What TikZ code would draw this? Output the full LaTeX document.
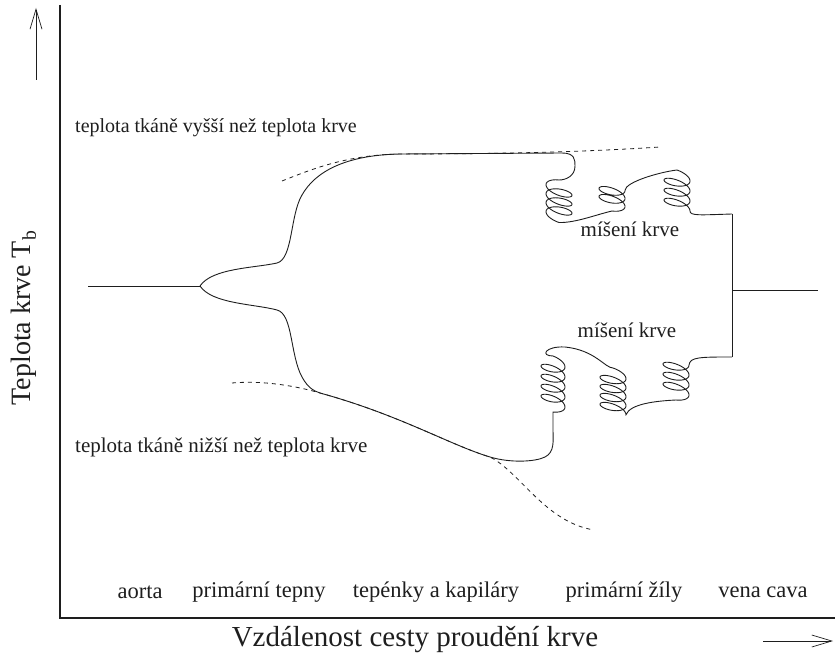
\documentclass[tikz,border=0pt]{standalone}
\usepackage{fontspec}
\setmainfont{Liberation Serif}
\usetikzlibrary{arrows.meta}
\definecolor{btInk}{HTML}{1E1E1E}
\tikzset{
  bt axis/.style={draw=btInk, line width=1.8pt},
  bt curve/.style={draw=btInk, line width=0.9pt},
  bt guide/.style={draw=btInk, dash pattern=on 4pt off 4pt, line width=0.8pt},
  bt hint/.style={draw=btInk, line width=0.7pt, -{Straight Barb[length=20pt,width=12pt]}},
  bt spring/.style={variable=\t, samples=150},
  bt label/.style={font=\fontsize{21}{24}\selectfont, text=btInk, inner sep=0pt},
  bt section/.style={font=\fontsize{22.5}{25}\selectfont, text=btInk, inner sep=0pt},
  bt title/.style={font=\fontsize{29}{32}\selectfont, text=btInk, inner sep=0pt},
}

\begin{document}
\begin{tikzpicture}[x=1pt,y=-1pt]
\useasboundingbox (0,0) rectangle (835,660);
% axes and the two direction hints
\coordinate (origin) at (60,618);
\draw[bt axis] (60,5) -- (origin) -- (835,618);
\draw[bt hint] (36,80) -- (36,8);
\draw[bt hint] (763,641) -- (833,641);
\node[bt title,font=\fontsize{28}{32}\selectfont,rotate=90] (ylab) at (24,318) {Teplota krve T\textsubscript{b}};
\node[bt title] (xlab) at (415,640) {Vzdálenost cesty proudění krve};
% sections along the path
\node[bt section] (aorta) at (140,592) {aorta};
\node[bt section] (tepny) at (259,592) {primární tepny};
\node[bt section] (kapilary) at (436,592) {tepénky a kapiláry};
\node[bt section] (zily) at (624,592) {primární žíly};
\node[bt section] (cava) at (763,592) {vena cava};
\node[bt label,font=\fontsize{20}{24}\selectfont,anchor=west] (warm) at (75,128) {teplota tkáně vyšší než teplota krve};
\node[bt label,anchor=west] (cold) at (75,447) {teplota tkáně nižší než teplota krve};
\node[bt label] (mixtop) at (630,229) {míšení krve};
\node[bt label] (mixbot) at (627,330) {míšení krve};
% tissue temperature
\draw[bt guide] (282,181) .. controls (310,170) and (345,155) .. (400,154) .. controls (520,154) and (600,151) .. (660,147);
\draw[bt guide] (232,383) .. controls (265,380) and (300,387) .. (320,393) .. controls (400,415) and (450,445) .. (490,457) .. controls (520,472) and (545,522) .. (594,530);
% blood temperature
\coordinate (split) at (200,286);
\draw[bt curve] (88,286) -- (split);
\draw[bt curve] (split) .. controls (212,268) and (255,268) .. (277,263)
  .. controls (293,259) and (290,215) .. (302,195)
  .. controls (315,172) and (345,155) .. (400,154) -- (562,153)
  .. controls (575,153) and (575,160) .. (575,166)
  .. controls (575,176) and (566,180) .. (559,180)
  -- plot[bt spring,domain=0:1260] ({559-13*sin(\t)},{180+5.5*(1-cos(\t))-3*sin(\t)+9*\t/360})
  .. controls (575,223) and (595,215) .. (612,211)
  -- plot[bt spring,domain=0:810] ({612+13*sin(\t)},{211-5.5*(1-cos(\t))+3*sin(\t)-8*\t/360})
  .. controls (625,182) and (660,172) .. (677,170)
  -- plot[bt spring,domain=0:1170] ({677+13*sin(\t)},{170+5.5*(1-cos(\t))+3*sin(\t)+10*\t/360})
  .. controls (690,216) and (700,215) .. (732,214) coordinate (upperEnd);
\draw[bt curve] (split) .. controls (212,304) and (255,304) .. (277,310)
  .. controls (293,314) and (290,355) .. (302,377)
  .. controls (308,388) and (314,391) .. (320,393)
  .. controls (400,415) and (450,445) .. (490,457)
  .. controls (510,463) and (535,462) .. (545,457)
  .. controls (555,452) and (553,440) .. (553,430) -- (553,412)
  -- plot[bt spring,domain=0:1620] ({553+12*sin(\t)},{412-5.5*(1-cos(\t))+3*sin(\t)-10*\t/360})
  .. controls (540,356) and (545,346) .. (565,347)
  .. controls (595,350) and (605,368) .. (613,368)
  -- plot[bt spring,domain=0:1530] ({613+13*sin(\t)},{368+5.5*(1-cos(\t))+3*sin(\t)+9*\t/360})
  .. controls (630,404) and (655,401) .. (676,400)
  -- plot[bt spring,domain=0:1170] ({676+13*sin(\t)},{400-5.5*(1-cos(\t))+3*sin(\t)-10*\t/360})
  .. controls (690,357) and (700,357) .. (732,357) coordinate (lowerEnd);
\coordinate (venaCava) at (732,290);
\draw[bt curve] (upperEnd) -- (lowerEnd);
\draw[bt curve] (venaCava) -- (818,290);
\end{tikzpicture}
\end{document}
